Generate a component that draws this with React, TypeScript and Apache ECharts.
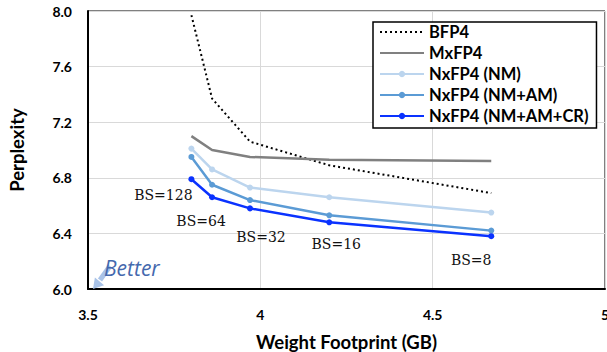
import React, { useEffect, useRef } from "react";
import * as echarts from "echarts";

const footprint = [3.8, 3.86, 3.97, 4.2, 4.67];
const bfp4 = [7.97, 7.37, 7.06, 6.89, 6.69];
const mxfp4 = [7.1, 7.0, 6.95, 6.93, 6.92];
const nxNM = [7.01, 6.86, 6.73, 6.66, 6.55];
const nxNMAM = [6.95, 6.75, 6.64, 6.53, 6.42];
const nxNMAMCR = [6.79, 6.66, 6.58, 6.48, 6.38];
const bsLabels = ["BS=128", "BS=64", "BS=32", "BS=16", "BS=8"];
const bsOffsets = [[-28, 16], [-11, 24], [11, 29], [7, 22], [-20, 24]];
const seriesNames = ["BFP4", "MxFP4", "NxFP4 (NM)", "NxFP4 (NM+AM)", "NxFP4 (NM+AM+CR)"];

const pairs = (ys: number[]) => footprint.map((x, i) => [x, ys[i]]);

export default function App() {
  const ref = useRef<HTMLDivElement>(null);
  useEffect(() => {
    if (!ref.current) return;
    const chart = echarts.init(ref.current, null, { renderer: "svg" });
    const boldFont = { fontFamily: "Lato", fontWeight: "bold" as const, color: "#000" };
    const lineSeries = (name: string, ys: number[], color: string, width: number, sym: boolean, type: any = "solid", z = 2) => ({
      name,
      type: "line",
      data: pairs(ys),
      symbol: sym ? "circle" : "none",
      symbolSize: 6,
      showSymbol: sym,
      z,
      itemStyle: { color },
      lineStyle: { color, width, type },
    });
    const crSeries: any = lineSeries(seriesNames[4], nxNMAMCR, "#0a32ff", 2.5, true, "solid", 6);
    crSeries.data = pairs(nxNMAMCR).map((p, i) => ({
      value: p,
      label: {
        show: true,
        formatter: bsLabels[i],
        position: "inside",
        offset: bsOffsets[i],
        fontFamily: "DejaVu Serif",
        fontSize: 14,
        color: "#111",
      },
    }));
    chart.setOption({
      animation: false,
      backgroundColor: "#fff",
      grid: {
        left: 88, right: 2, top: 11, bottom: 63, show: true, borderColor: "#000", borderWidth: 1,
        outerBoundsMode: "none", containLabel: false,
      },
      legend: {
        orient: "vertical",
        left: 373,
        top: 22,
        padding: [0, 8, 2, 6],
        itemWidth: 44,
        itemHeight: 8,
        itemGap: 1,
        borderColor: "#000",
        borderWidth: 1.5,
        backgroundColor: "#fff",
        data: seriesNames.map((n, i) => (i < 2 ? { name: n, itemStyle: { opacity: 0 } } : { name: n })),
        textStyle: { ...boldFont, fontSize: 16.5, lineHeight: 20 },
      },
      xAxis: {
        type: "value",
        min: 3.5,
        max: 5,
        interval: 0.5,
        name: "Weight Footprint (GB)",
        nameLocation: "middle",
        nameGap: 43,
        nameTextStyle: { ...boldFont, fontSize: 18.5 },
        axisLine: { show: true, lineStyle: { color: "#000", width: 2 } },
        axisTick: { show: false },
        axisLabel: { ...boldFont, fontSize: 14, margin: 18, formatter: (v: number) => String(v) },
        splitLine: { show: true, lineStyle: { color: "#d9d9d9", width: 1 } },
      },
      yAxis: {
        type: "value",
        min: 6.0,
        max: 8.0,
        interval: 0.4,
        name: "Perplexity",
        nameLocation: "middle",
        nameGap: 62,
        nameTextStyle: { ...boldFont, fontSize: 18.5 },
        axisLine: { show: true, lineStyle: { color: "#000", width: 2 } },
        axisTick: { show: false },
        axisLabel: { ...boldFont, fontSize: 14, margin: 16, formatter: (v: number) => v.toFixed(1) },
        splitLine: { show: true, lineStyle: { color: "#d9d9d9", width: 1 } },
      },
      series: [
        lineSeries(seriesNames[0], bfp4, "#000", 2, false, [2, 3], 2),
        lineSeries(seriesNames[1], mxfp4, "#808080", 2.5, false, "solid", 3),
        lineSeries(seriesNames[2], nxNM, "#bcd5ee", 2.5, true, "solid", 4),
        lineSeries(seriesNames[3], nxNMAM, "#5b9bd5", 2.5, true, "solid", 5),
        crSeries,
      ],
      graphic: [
        {
          type: "line",
          shape: { x1: 110, y1: 266, x2: 100, y2: 280 },
          style: { stroke: "#a9c3e8", lineWidth: 5 },
          z: 10,
        },
        {
          type: "polygon",
          shape: { points: [[93, 289], [104.1, 285.3], [94.9, 277.5]] },
          style: { fill: "#a9c3e8" },
          z: 10,
        },
        {
          type: "text",
          x: 104,
          y: 268,
          style: {
            text: "Better",
            fontFamily: "Open Sans",
            fontStyle: "italic",
            fontSize: 21,
            fill: "#4468ad",
            verticalAlign: "middle",
          },
          z: 11,
        },
      ],
    });
    return () => chart.dispose();
  }, []);
  return <div ref={ref} style={{ position: "absolute", left: 0, top: 0, width: 607, height: 352 }} />;
}
